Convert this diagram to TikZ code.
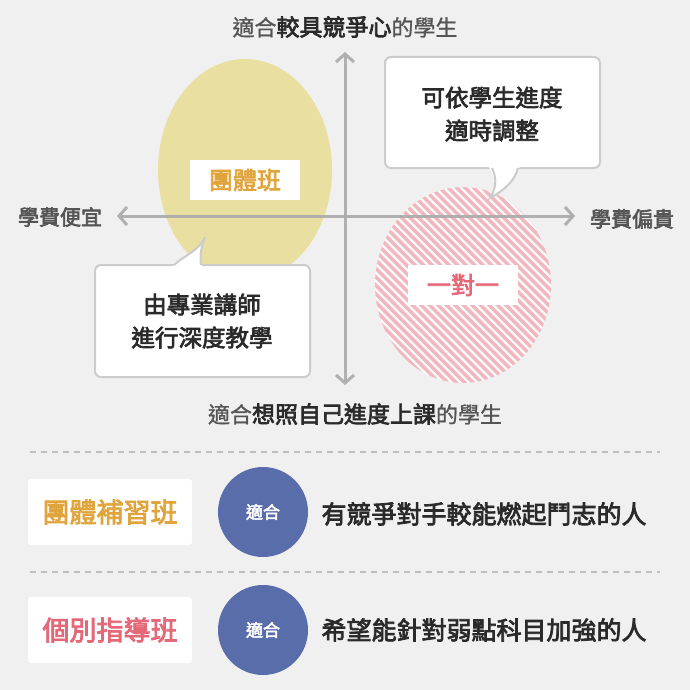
\documentclass[tikz,border=0pt]{standalone}
\usepackage{fontspec}
\setmainfont{Noto Sans CJK TC}
\newfontfamily\cjkb{Noto Sans CJK TC}[FakeBold=3]
\newfontfamily\cjkr{Noto Sans CJK TC}[FakeBold=1]
\usetikzlibrary{arrows.meta}
\definecolor{bg}{HTML}{F0F0F0}
\definecolor{axisc}{HTML}{AAAAAA}
\definecolor{ylw}{HTML}{E8DFA0}
\definecolor{org}{HTML}{E0A43A}
\definecolor{pnk}{HTML}{E46877}
\definecolor{strp}{HTML}{F2B6BE}
\definecolor{blu}{HTML}{5A6DAB}
\definecolor{txt}{HTML}{2A2A2A}
\definecolor{sub}{HTML}{555555}
\tikzset{
 ax/.style={draw=axisc,line width=3pt,-{Straight Barb[length=8pt,width=18pt,line width=3pt]}},
 lbl/.style={fill=white,minimum width=110pt,minimum height=40pt,font=\cjkb\fontsize{24}{26}\selectfont},
 bubble/.style={fill=white,draw=black!20,line width=2pt,rounded corners=6pt},
 btxt/.style={font=\cjkb\fontsize{23.5}{33}\selectfont,text=txt,align=center},
 side/.style={font=\cjkb\fontsize{21}{24}\selectfont,text=sub},
 sepline/.style={draw=black!25,line width=2pt,dash pattern=on 6pt off 5pt},
 namebox/.style={fill=white,rounded corners=3pt,minimum width=164pt,minimum height=66pt,font=\cjkb\fontsize{27}{30}\selectfont},
 circ/.style={circle,fill=blu,minimum size=90pt,text=white,font=\cjkb\fontsize{17}{20}\selectfont},
 desc/.style={anchor=west,font=\cjkb\fontsize{25}{28}\selectfont,text=txt}
}
\begin{document}
\begin{tikzpicture}[x=1pt,y=-1pt]
\fill[bg] (0,0) rectangle (690,690);
\useasboundingbox (0,0) rectangle (690,690);
% ellipses
\fill[ylw] (245,170) ellipse [x radius=87,y radius=111];
\begin{scope}
\clip (463,285) ellipse [x radius=88,y radius=98];
\fill[white!60!bg] (463,285) ellipse [x radius=88,y radius=98];
\foreach \i in {-30,...,30}{
 \draw[strp,line width=3.2pt] (300+\i*8.5,150) -- (600+\i*8.5,450);}
\end{scope}
% axes
\coordinate (vt) at (345,52); \coordinate (vb) at (345,385);
\coordinate (hl) at (117,216); \coordinate (hr) at (575,216);
\coordinate (c) at (345,216);
\draw[ax,opacity=0.9] (c) -- (vt);
\draw[ax,opacity=0.9] (c) -- (vb);
\draw[ax,opacity=0.9] (c) -- (hl);
\draw[ax,opacity=0.9] (c) -- (hr);
\node[side,font=\cjkr\fontsize{22}{24}\selectfont] (ttop) at (345,27) {適合{\cjkb\fontsize{23}{24}\selectfont\color{txt}較具競爭心}的學生};
\node[side,font=\cjkr\fontsize{22}{24}\selectfont] (tbot) at (355,414) {適合{\cjkb\fontsize{23}{24}\selectfont\color{txt}想照自己進度上課}的學生};
\node[side] (tl) at (60,217) {學費便宜};
\node[side] (tr) at (632,219) {學費偏貴};
\node[lbl,text=org] (g) at (245,180) {團體班};
\node[lbl,text=pnk] (o) at (463,285) {一對一};
% bubbles
\draw[bubble] (385,57) rectangle (600,168);
\fill[white] (488,166) .. controls (498,180) and (495,190) .. (490,198) .. controls (505,190) and (515,180) .. (520,166) -- cycle;
\draw[black!20,line width=2pt] (492,168) .. controls (498,180) and (495,190) .. (490,198) .. controls (505,190) and (515,180) .. (518,168);
\node[btxt] (b1) at (492,114) {可依學生進度\\適時調整};
\draw[bubble] (95,265) rectangle (310,377);
\fill[white] (172,267) .. controls (185,255) and (200,250) .. (205,237) .. controls (200,250) and (200,258) .. (202,267) -- cycle;
\draw[black!20,line width=2pt] (174,265) .. controls (185,255) and (200,250) .. (205,237) .. controls (200,250) and (200,258) .. (201,265);
\node[btxt] (b2) at (202,321) {由專業講師\\進行深度教學};
% bottom
\coordinate (d1a) at (30,452); \coordinate (d1b) at (660,452);
\coordinate (d2a) at (30,572); \coordinate (d2b) at (660,572);
\draw[sepline] (d1a) -- (d1b);
\draw[sepline] (d2a) -- (d2b);
\node[namebox,text=org] (n1) at (110,512) {團體補習班};
\node[circ] (c1) at (263,512) {適合};
\node[desc] (t1) at (318,514) {有競爭對手較能燃起鬥志的人};
\node[namebox,text=pnk] (n2) at (110,630) {個別指導班};
\node[circ] (c2) at (263,630) {適合};
\node[desc] (t2) at (318,630) {希望能針對弱點科目加強的人};
\end{tikzpicture}
\end{document}
